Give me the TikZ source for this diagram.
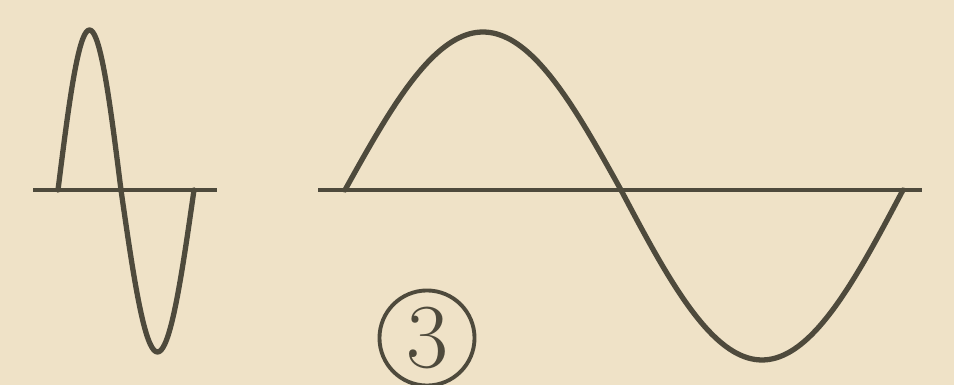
\documentclass[tikz,border=0pt]{standalone}
\usepackage{amsmath,amssymb}
\usetikzlibrary{positioning}
\definecolor{paper}{RGB}{239,226,199}
\definecolor{ink}{RGB}{78,74,60}

\begin{document}
\begin{tikzpicture}[x=0.01cm, y=-0.01cm,
	axis/.style={ink, line width=0.9pt},
	wave/.style={ink, line width=1.5pt, line join=round, line cap=round},
	every node/.style={font=\fontsize{26}{26}\selectfont}]
	\fill[paper] (0,0) rectangle (954,385);
	\useasboundingbox (0,0) rectangle (954,385);
	% short wave
	\draw[axis] (33,190) -- (217,190);
	\draw[wave] plot[domain=0:180, samples=41, smooth] ({58+\x/180*63},{190-160*sin(\x)})
		-- plot[domain=0:180, samples=41, smooth] ({121+\x/180*73},{190+162*sin(\x)});
	% long wave
	\draw[axis] (318,190) -- (922,190);
	\draw[wave] plot[domain=0:180, samples=41, smooth] ({345+\x/180*276},{190-158*sin(\x)})
		-- plot[domain=0:180, samples=41, smooth] ({621+\x/180*282},{190+170*sin(\x)});
	\node[draw=ink, text=ink, circle, line width=1.1pt, minimum size=0.95cm, inner sep=0pt] (three) at (427,338) {3};
\end{tikzpicture}
\end{document}
